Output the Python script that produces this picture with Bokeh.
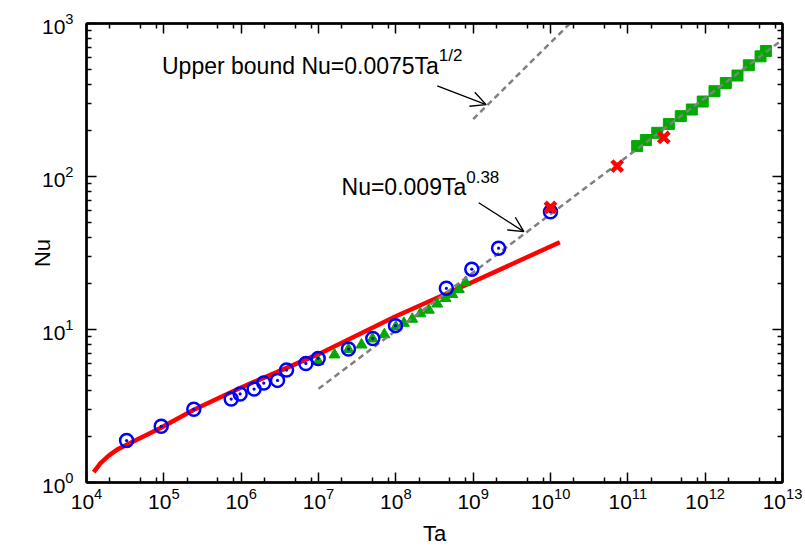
from bokeh.plotting import figure
from bokeh.models import (FixedTicker, LogTickFormatter, LogAxis, Arrow, OpenHead,
                          Label, Range1d, CustomJSTickFormatter)
from bokeh.embed import file_html
from bokeh.resources import INLINE

FONT = "Liberation Sans"

# Measured Nusselt numbers (blue open circles with centre dot)
ta_circle = [3.3e4, 9.25e4, 2.44e5, 7.43e5, 9.7e5, 1.47e6, 1.96e6, 2.95e6, 3.86e6,
             6.86e6, 9.9e6, 2.44e7, 5.04e7, 9.9e7, 4.5e8, 9.6e8, 2.13e9, 1.0e10]
nu_circle = [1.88, 2.33, 3.01, 3.51, 3.79, 4.08, 4.47, 4.65, 5.43,
             6.0, 6.47, 7.45, 8.74, 10.6, 18.6, 24.8, 34.0, 58.9]

# Green triangles
ta_tri = [9.9e6, 1.61e7, 2.44e7, 3.6e7, 5.0e7, 7.1e7, 1.0e8, 1.27e8, 1.63e8, 2.08e8,
          2.67e8, 3.43e8, 4.39e8, 5.35e8, 6.52e8, 7.96e8]
nu_tri = [6.2, 6.84, 7.4, 7.94, 8.7, 9.27, 10.4, 11.0, 11.7, 12.7,
          13.4, 14.7, 16.0, 17.0, 18.3, 20.3]

# Green squares
ta_sq = [1.32e11, 1.71e11, 2.40e11, 3.39e11, 4.84e11, 6.72e11, 9.3e11, 1.32e12,
         1.85e12, 2.62e12, 3.67e12, 5.2e12, 6.1e12]
nu_sq = [158, 173, 193, 220, 248, 274, 309, 361, 408, 457, 533, 610, 661]

# Red crosses
ta_x = [1.0e10, 7.28e10, 2.92e11]
nu_x = [62.8, 117, 180]

# Red theory curve
ta_curve = [1.24e4, 1.52e4, 1.94e4, 2.49e4, 3.36e4, 9.06e4, 2.44e5, 1.0e6, 1.0e7,
            1.0e8, 1.0e9, 1.32e10]
nu_curve = [1.17, 1.34, 1.50, 1.64, 1.77, 2.27, 2.99, 4.18, 6.9, 12.2, 20.5, 37.2]

# Power-law reference lines
ta_fit038 = [1.0e7, 1.0e13]
nu_fit038 = [4.1, 784]
ta_fit05 = [1.0e9, 1.78e10]
nu_fit05 = [237, 1000]

x_major = [10.0 ** k for k in range(4, 14)]
x_minor = [m * 10.0 ** k for k in range(4, 13) for m in (2, 5, 8)]
y_major = [1.0, 10.0, 100.0, 1000.0]
y_minor = [m * 10.0 ** k for k in range(0, 3) for m in range(2, 10)]

p = figure(width=805, height=548, x_axis_type="log", y_axis_type="log",
           x_range=Range1d(1e4, 1e13), y_range=Range1d(1, 1000),
           output_backend="svg", toolbar_location=None,
           min_border_left=86, min_border_right=23, min_border_top=23,
           min_border_bottom=65)
p.grid.visible = False
p.outline_line_color = "black"
p.outline_line_width = 2
p.background_fill_color = "white"
p.border_fill_color = "white"

p.add_layout(LogAxis(), "above")
p.add_layout(LogAxis(), "right")

for ax in p.xaxis:
    ax.ticker = FixedTicker(ticks=x_major, minor_ticks=x_minor)
for ax in p.yaxis:
    ax.ticker = FixedTicker(ticks=y_major, minor_ticks=y_minor)

for ax in p.axis:
    ax.axis_line_width = 2.5
    ax.axis_line_color = "black"
    ax.major_tick_in = 10
    ax.major_tick_out = 0
    ax.minor_tick_in = 5
    ax.minor_tick_out = 0
    ax.major_tick_line_width = 1.5
    ax.minor_tick_line_width = 1.5
    ax.major_label_text_font = FONT
    ax.major_label_text_font_size = "21px"
    ax.major_label_text_color = "black"
    ax.axis_label_text_font = FONT
    ax.axis_label_text_font_size = "22px"
    ax.axis_label_text_font_style = "normal"
    ax.axis_label_text_color = "black"

xa = p.below[0]
ya = p.left[0]
xa.formatter = LogTickFormatter()
ya.formatter = LogTickFormatter()
xa.major_label_standoff = 5
ya.major_label_standoff = 13
xa.axis_label = "Ta"
xa.axis_label_standoff = 9
ya.axis_label = "Nu"
ya.axis_label_standoff = -16

blank = CustomJSTickFormatter(code="return ''")
for ax in (p.above[0], p.right[0]):
    ax.formatter = blank
    ax.major_label_text_font_size = "1px"
    ax.major_label_standoff = 0

GREEN = "#00aa00"

p.line(ta_curve, nu_curve, line_color="#ff0000", line_width=4.5)
p.scatter(ta_tri, nu_tri, marker="triangle", size=11, fill_color=GREEN, line_color=GREEN)
p.scatter(ta_sq, nu_sq, marker="square", size=11, fill_color=GREEN, line_color=GREEN)
p.line(ta_fit038, nu_fit038, line_color="#808080", line_width=2.5, line_dash="6 4")
p.line(ta_fit05, nu_fit05, line_color="#808080", line_width=2.5, line_dash="6 4")
p.scatter(ta_circle, nu_circle, marker="circle_dot", size=13, fill_color=None,
          line_color="#0000ff", line_width=2.5)
p.scatter(ta_x, nu_x, marker="x", size=15, line_color="#ff0000", line_width=4.5)

# Annotation arrows
p.add_layout(Arrow(x_start=3.43e8, y_start=391, x_end=1.47e9, y_end=295,
                   line_color="black", line_width=1.4,
                   end=OpenHead(size=15, line_color="black", line_width=1.4)))
p.add_layout(Arrow(x_start=1.18e9, y_start=67.4, x_end=4.52e9, y_end=43.6,
                   line_color="black", line_width=1.4,
                   end=OpenHead(size=15, line_color="black", line_width=1.4)))

def text(x, y, s, size, align="left"):
    p.add_layout(Label(x=x, y=y, text=s, text_font=FONT, text_font_size=size,
                       text_align=align, text_baseline="alphabetic",
                       text_color="black"))

text(3.6e8, 525, "Upper bound Nu=0.0075Ta", "23px", align="right")
text(3.6e8, 620, "1/2", "17px")
text(8.13e8, 86.0, "Nu=0.009Ta", "23px", align="right")
text(8.13e8, 100.0, "0.38", "17px")

open("out.html", "w").write(file_html(p, INLINE))
